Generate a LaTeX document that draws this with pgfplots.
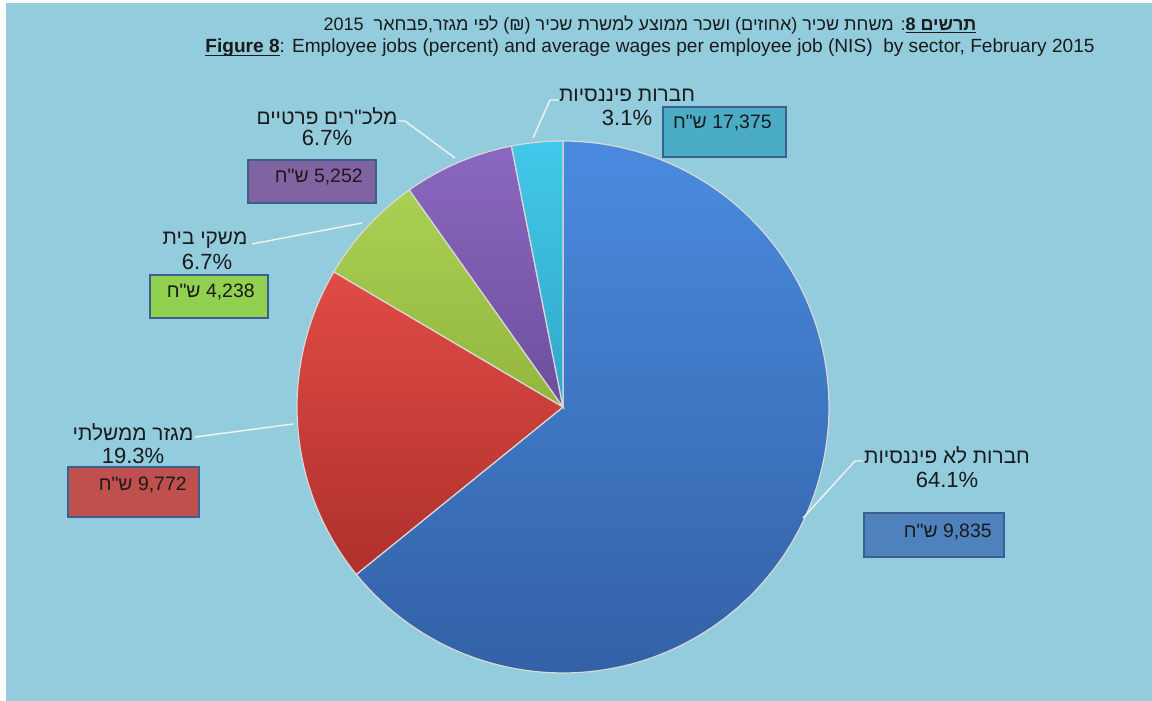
\documentclass[border=0pt]{standalone}
\usepackage{fontspec}
\setmainfont{Liberation Sans}
\newfontfamily\hebfont[Script=Hebrew]{Liberation Sans}
\TeXXeTstate=1
\usepackage{pgfplots}
\pgfplotsset{compat=1.18}
\newcommand{\heb}[1]{{\hebfont\beginR #1\endR}}
% underline close to the baseline
\newcommand{\ul}[1]{{\setbox0\hbox{#1}\rlap{\vrule width\wd0 height -0.9pt depth 1.5pt}\box0}}
\definecolor{bg}{HTML}{93CDDD}
\definecolor{boxline}{HTML}{3B5F8E}
\definecolor{txt}{HTML}{1A1A1A}
% slices: top / bottom of the gradient
\definecolor{blueT}{HTML}{4A8BDF}\definecolor{blueB}{HTML}{3361A6}
\definecolor{redT}{HTML}{E14B46}\definecolor{redB}{HTML}{AE302C}
\definecolor{grnT}{HTML}{AAD052}\definecolor{grnB}{HTML}{93B63E}
\definecolor{purT}{HTML}{8B68C0}\definecolor{purB}{HTML}{6D4E9C}
\definecolor{cyaT}{HTML}{42C8EA}\definecolor{cyaB}{HTML}{30A8C8}
% boxes
\definecolor{boxBlue}{HTML}{4F81BD}
\definecolor{boxRed}{HTML}{C0504D}
\definecolor{boxGrn}{HTML}{92D050}
\definecolor{boxPur}{HTML}{8064A2}
\definecolor{boxCya}{HTML}{4BACC6}

% percent of employee jobs, clockwise from the top
\def\pA{64.1}% non-financial companies
\def\pB{19.3}% government
\def\pC{6.7}%  households
\def\pD{6.7}%  private non-profit
\def\pE{3.1}%  financial companies

\begin{document}
\begin{tikzpicture}
\fill[white] (0,0) rectangle (576pt,350.5pt);
\fill[bg] (3pt,0pt) rectangle (576pt,349pt);

\pgfmathsetmacro{\tot}{\pA+\pB+\pC+\pD+\pE}
\pgfmathsetmacro{\aA}{90}
\pgfmathsetmacro{\aB}{\aA-\pA/\tot*360}
\pgfmathsetmacro{\aC}{\aB-\pB/\tot*360}
\pgfmathsetmacro{\aD}{\aC-\pC/\tot*360}
\pgfmathsetmacro{\aE}{\aD-\pD/\tot*360}
\pgfmathsetmacro{\aF}{\aE-\pE/\tot*360}

\begin{axis}[
  at={(0,0)}, anchor=south west,
  width=576pt, height=350.5pt, scale only axis,
  xmin=0, xmax=1152, ymin=0, ymax=701, y dir=reverse,
  hide axis, clip=false,
  slice/.style={samples=120, variable=\t, draw=white!70!gray, line width=0.6pt},
]
\addplot[slice, top color=blueT, bottom color=blueB, domain=\aB:\aA]
  ({563+266*cos(\t)},{407-266*sin(\t)}) -- (axis cs:563,407) -- cycle;
\addplot[slice, top color=redT, bottom color=redB, domain=\aC:\aB]
  ({563+266*cos(\t)},{407-266*sin(\t)}) -- (axis cs:563,407) -- cycle;
\addplot[slice, top color=grnT, bottom color=grnB, domain=\aD:\aC]
  ({563+266*cos(\t)},{407-266*sin(\t)}) -- (axis cs:563,407) -- cycle;
\addplot[slice, top color=purT, bottom color=purB, domain=\aE:\aD]
  ({563+266*cos(\t)},{407-266*sin(\t)}) -- (axis cs:563,407) -- cycle;
\addplot[slice, top color=cyaT, bottom color=cyaB, domain=\aF:\aE]
  ({563+266*cos(\t)},{407-266*sin(\t)}) -- (axis cs:563,407) -- cycle;

% leader lines
\addplot[white!90!gray, line width=0.7pt] coordinates {(803,518) (855,461) (863,461)};
\addplot[white!90!gray, line width=0.7pt] coordinates {(293,424) (195,437)};
\addplot[white!90!gray, line width=0.7pt] coordinates {(362,223) (252,244)};
\addplot[white!90!gray, line width=0.7pt] coordinates {(455,158) (405,121) (398,121)};
\addplot[white!90!gray, line width=0.7pt] coordinates {(533,138) (550,100) (560,100)};

% category labels
\begin{scope}[every node/.style={text=txt, font=\fontsize{11}{13}\selectfont, align=center}]
\node at (axis cs:947,455) {\fontsize{10.4}{12}\selectfont\heb{חברות לא פיננסיות}};
\node at (axis cs:947,480) {64.1\%};
\node at (axis cs:133,432) {\fontsize{10.4}{12}\selectfont\heb{מגזר ממשלתי}};
\node at (axis cs:133,456) {19.3\%};
\node at (axis cs:205,240) {\fontsize{10.4}{12}\selectfont\heb{משקי בית}};
\node at (axis cs:207,262) {6.7\%};
\node at (axis cs:327,116) {\fontsize{10.4}{12}\selectfont\heb{מלכ"רים פרטיים}};
\node at (axis cs:327,138) {6.7\%};
\node at (axis cs:627,95) {\fontsize{10.4}{12}\selectfont\heb{חברות פיננסיות}};
\node at (axis cs:627,118) {3.1\%};
\end{scope}

% average wage boxes (NIS)
\begin{scope}[every node/.style={text=txt, font=\fontsize{9.7}{12}\selectfont, anchor=east, inner sep=0pt}]
\draw[boxline, line width=1.4pt, fill=boxBlue] (axis cs:864,513) rectangle (axis cs:1004,557);
\node at (axis cs:992,532) {\heb{9,835 ש"ח}};
\draw[boxline, line width=1.4pt, fill=boxRed] (axis cs:68,467) rectangle (axis cs:199,517);
\node at (axis cs:187,485) {\heb{9,772 ש"ח}};
\draw[boxline, line width=1.4pt, fill=boxGrn] (axis cs:150,275) rectangle (axis cs:268,318);
\node at (axis cs:255,292) {\heb{4,238 ש"ח}};
\draw[boxline, line width=1.4pt, fill=boxPur] (axis cs:248,160) rectangle (axis cs:376,203);
\node at (axis cs:363,177) {\heb{5,252 ש"ח}};
\draw[boxline, line width=1.4pt, fill=boxCya] (axis cs:663,107) rectangle (axis cs:786,157);
\node at (axis cs:772,123) {\heb{17,375 ש"ח}};
\end{scope}

% title
\node[text=txt, font=\fontsize{9}{11}\selectfont] at (axis cs:650,25)
  {\hebfont\beginR\ul{\bfseries\beginR תרשים 8\endR}: משחת שכיר (אחוזים) ושכר ממוצע למשרת שכיר (₪) לפי מגזר,פבחאר\ \ 2015\endR};
\node[text=txt, font=\fontsize{9.55}{11}\selectfont] at (axis cs:650,48)
  {\ul{\bfseries Figure 8}: Employee jobs (percent) and average wages per employee job (NIS)\ \ by sector, February\ 2015};
\end{axis}
\pgfresetboundingbox
\path (0,0) rectangle (576pt,350.5pt);
\end{tikzpicture}
\end{document}
